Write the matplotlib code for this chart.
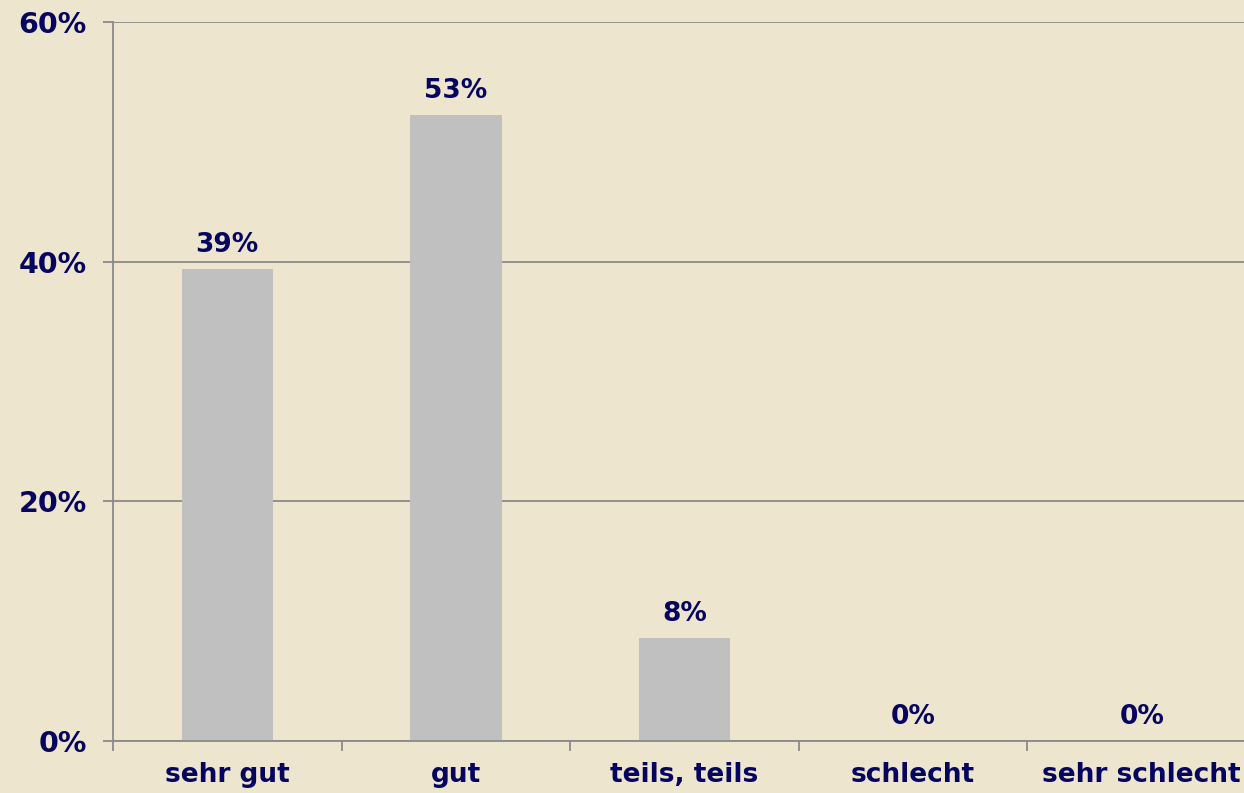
import matplotlib
matplotlib.use("Agg")
import matplotlib.pyplot as plt
import numpy as np

categories = ["sehr gut", "gut", "teils, teils", "schlecht", "sehr schlecht"]
values = [39.4, 52.2, 8.6, 0.0, 0.0]
value_labels = ["39%", "53%", "8%", "0%", "0%"]
y_ticks = [0, 20, 40, 60]

BG = "#eee5cf"
BAR = "#c0c0c0"
TXT = "#05055f"
GRID = "#8a8a8a"

plt.rcParams["font.family"] = ["DejaVu Sans"]
plt.rcParams["font.weight"] = "bold"

fig = plt.figure(figsize=(12.44, 7.93), dpi=100, facecolor=BG)
ax = fig.add_axes([113 / 1244, 52 / 793, 1143 / 1244, 719 / 793])
ax.set_facecolor(BG)

x = np.arange(len(categories))
ax.bar(x, values, width=0.4, color=BAR, zorder=2)

for xi, v, lab in zip(x, values, value_labels):
    ax.annotate(lab, (xi, v), xytext=(0, 8), textcoords="offset points",
                ha="center", va="bottom", fontsize=19, fontweight="bold",
                color=TXT)

ax.set_xlim(-0.5, len(categories) - 0.5)
ax.set_ylim(0, 60)

ax.set_yticks(y_ticks)
ax.set_yticklabels([f"{t}%" for t in y_ticks])
ax.yaxis.grid(True, color=GRID, linewidth=1.3, zorder=0)
ax.set_axisbelow(True)

ax.set_xticks(x)
ax.set_xticklabels(categories)
ax.set_xticks(np.arange(-0.5, len(categories)), minor=True)
ax.tick_params(axis="x", which="major", length=0, pad=15,
               labelsize=19, labelcolor=TXT)
ax.tick_params(axis="x", which="minor", length=7, width=1.3,
               color=GRID, direction="out")
ax.tick_params(axis="y", length=7, width=1.3, color=GRID, pad=12,
               labelsize=20.5, labelcolor=TXT)
for lab in ax.get_xticklabels() + ax.get_yticklabels():
    lab.set_fontweight("bold")

for side in ["top", "right"]:
    ax.spines[side].set_visible(False)
for side in ["left", "bottom"]:
    ax.spines[side].set_color(GRID)
    ax.spines[side].set_linewidth(1.3)

fig.savefig("out.png", dpi=100, facecolor=BG)
